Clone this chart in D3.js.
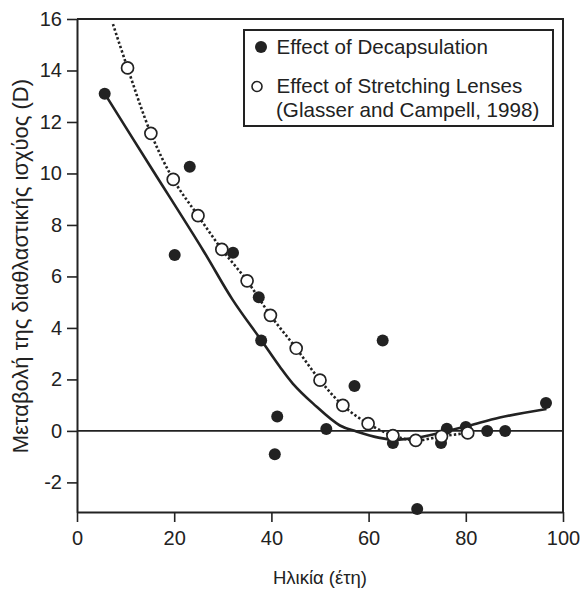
<!DOCTYPE html>
<html>
<head>
<meta charset="utf-8">
<script src="https://cdn.jsdelivr.net/npm/d3@7"></script>
<style>
  body { margin: 0; background: #fff; }
  svg text { font-family: "Liberation Sans", Arial, Helvetica, sans-serif; fill: #222; }
</style>
</head>
<body>
<div id="chart"></div>
<script>
// Effect of Decapsulation (filled dots)
var decapAge   = [5.7, 20.1, 23.2, 32.1, 37.4, 37.9, 40.7, 41.2, 51.3, 57.1, 62.9, 65.0, 70.0, 74.9, 76.1, 80.0, 84.4, 88.1, 96.5];
var decapPower = [13.1, 6.83, 10.26, 6.92, 5.19, 3.51, -0.91, 0.56, 0.07, 1.74, 3.51, -0.47, -3.03, -0.47, 0.08, 0.15, 0.0, 0.0, 1.08];

// Effect of Stretching Lenses (open circles)
var stretchAge   = [10.4, 15.2, 19.8, 24.9, 29.8, 35.0, 39.8, 45.1, 50.0, 54.7, 59.9, 65.0, 69.7, 75.0, 80.4];
var stretchPower = [14.1, 11.56, 9.77, 8.36, 7.05, 5.83, 4.49, 3.21, 1.97, 0.99, 0.28, -0.18, -0.37, -0.21, -0.08];

// fitted curves
var decapFitAge   = [5.7, 15, 26, 32, 38, 41.7, 44.4, 48.6, 54.1, 57.5, 62.3, 65, 70, 75.3, 80.8, 87, 96.6];
var decapFitPower = [13.1, 10.3, 7.0, 5.1, 3.5, 2.5, 1.84, 1.06, 0.21, -0.02, -0.27, -0.34, -0.26, -0.05, 0.21, 0.52, 0.85];
var stretchFitAge   = [7.4, 10.4, 15.2, 19.8, 24.9, 29.8, 35.0, 39.8, 45.1, 50.0, 54.7, 59.9, 65.0, 69.7, 75.0, 80.4];
var stretchFitPower = [15.8, 14.1, 11.56, 9.77, 8.36, 7.05, 5.83, 4.49, 3.21, 1.97, 0.99, 0.28, -0.18, -0.37, -0.21, -0.08];

var xTicks = [0, 20, 40, 60, 80, 100];
var yTicks = [-2, 0, 2, 4, 6, 8, 10, 12, 14, 16];

var legendLabels = ["Effect of Decapsulation", "Effect of Stretching Lenses", "(Glasser and Campell, 1998)"];
var xTitle = "Ηλικία (έτη)";
var yTitle = "Μεταβολή της διαθλαστικής ισχύος (D)";

var svgWidth = 584, svgHeight = 589;
var margin = { top: 19, right: 21, bottom: 77, left: 77 };
var width = svgWidth - margin.left - margin.right;
var height = svgHeight - margin.top - margin.bottom;
var ink = "#222";

var svg = d3.select("#chart").append("svg")
    .attr("width", svgWidth)
    .attr("height", svgHeight);

var g = svg.append("g")
    .attr("transform", `translate(${margin.left},${margin.top})`);

var x = d3.scaleLinear().domain([0, 100]).range([0, width]);
var y = d3.scaleLinear().domain([-3.15, 16]).range([height, 0]);

// frame (top + right)
g.append("path")
    .attr("d", `M0,0H${width}V${height}`)
    .attr("fill", "none")
    .attr("stroke", ink)
    .attr("stroke-width", 2);

// zero line
g.append("line")
    .attr("x1", 0).attr("x2", width)
    .attr("y1", y(0)).attr("y2", y(0))
    .attr("stroke", ink)
    .attr("stroke-width", 1.6);

var fmt = d => String(d); // plain hyphen for negatives
var bottomAxis = d3.axisBottom(x).tickValues(xTicks).tickFormat(fmt).tickSize(10).tickPadding(9).tickSizeOuter(0);
var leftAxis = d3.axisLeft(y).tickValues(yTicks).tickFormat(fmt).tickSize(10).tickPadding(5).tickSizeOuter(0);

var xg = g.append("g")
    .attr("transform", `translate(0,${height})`)
    .call(bottomAxis);
var yg = g.append("g").call(leftAxis);

[xg, yg].forEach(a => {
  a.select(".domain").attr("stroke", ink).attr("stroke-width", 2);
  a.selectAll(".tick line").attr("stroke", ink).attr("stroke-width", 1.6);
  a.selectAll(".tick text").attr("font-size", 20).style("fill", ink);
});

// fitted lines
var decapFit = decapFitAge.map((a, i) => [a, decapFitPower[i]]);
var stretchFit = stretchFitAge.map((a, i) => [a, stretchFitPower[i]]);

var line = d3.line()
    .x(d => x(d[0]))
    .y(d => y(d[1]))
    .curve(d3.curveCatmullRom);

g.append("path")
    .attr("d", line(stretchFit))
    .attr("fill", "none")
    .attr("stroke", ink)
    .attr("stroke-width", 2.6)
    .attr("stroke-dasharray", "2.4,2.2");

g.append("path")
    .attr("d", line(decapFit))
    .attr("fill", "none")
    .attr("stroke", ink)
    .attr("stroke-width", 2.6);

// points
g.selectAll(".decap")
  .data(decapAge.map((a, i) => [a, decapPower[i]]))
  .join("circle")
    .attr("class", "decap")
    .attr("cx", d => x(d[0]))
    .attr("cy", d => y(d[1]))
    .attr("r", 6)
    .attr("fill", ink);

g.selectAll(".stretch")
  .data(stretchAge.map((a, i) => [a, stretchPower[i]]))
  .join("circle")
    .attr("class", "stretch")
    .attr("cx", d => x(d[0]))
    .attr("cy", d => y(d[1]))
    .attr("r", 6)
    .attr("fill", "#fff")
    .attr("stroke", ink)
    .attr("stroke-width", 1.7);

// legend
var legend = svg.append("g").attr("transform", "translate(244,30)");
legend.append("rect")
    .attr("width", 309).attr("height", 96)
    .attr("fill", "#fff")
    .attr("stroke", ink)
    .attr("stroke-width", 2);
legend.append("circle").attr("cx", 17).attr("cy", 17).attr("r", 6).attr("fill", ink);
legend.append("circle").attr("cx", 13).attr("cy", 56.5).attr("r", 5)
    .attr("fill", "#fff").attr("stroke", ink).attr("stroke-width", 1.6);
legend.selectAll("text.leg")
  .data(legendLabels)
  .join("text")
    .attr("class", "leg")
    .attr("x", (d, i) => i === 2 ? 32 : 32.5)
    .attr("y", (d, i) => [24.3, 63.3, 86.7][i])
    .attr("font-size", 20.6)
    .text(d => d);

// axis titles
svg.append("text")
    .attr("x", margin.left + width / 2)
    .attr("y", 584)
    .attr("text-anchor", "middle")
    .attr("font-size", 18.5)
    .text(xTitle);

svg.append("text")
    .attr("transform", `translate(28,${margin.top + y(6.4)}) rotate(-90)`)
    .attr("text-anchor", "middle")
    .attr("font-size", 22)
    .text(yTitle);
</script>
</body>
</html>
